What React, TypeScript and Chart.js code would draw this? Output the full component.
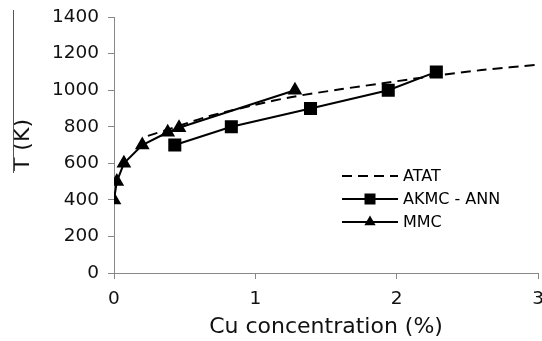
import React, { useEffect, useRef } from "react";
import { Chart, registerables } from "chart.js";

Chart.register(...registerables);

// ---- data ----
const atatX = [0.24, 0.4, 0.66, 1.0, 1.25, 1.6, 1.9, 2.28, 2.6, 3.0];
const atatY = [750, 790, 855, 920, 962, 1005, 1038, 1080, 1110, 1140];

const akmcX = [0.43, 0.83, 1.39, 1.94, 2.28];
const akmcY = [700, 800, 900, 1000, 1100];

const mmcX = [0.0, 0.02, 0.07, 0.2, 0.38, 0.46, 1.28];
const mmcY = [400, 500, 600, 700, 770, 795, 1000];

const seriesLabels = ["ATAT", "AKMC - ANN", "MMC"];
const xTicks = [0, 1, 2, 3];
const yTicks = [0, 200, 400, 600, 800, 1000, 1200, 1400];
const xTitle = "Cu concentration (%)";
const yTitle = "T (K)";

const FONT = "'DejaVu Sans', Verdana, sans-serif";
const SHIFT = 3; // canvas is shifted up by this many pixels

const toPts = (xs: number[], ys: number[]) => xs.map((x, i) => ({ x, y: ys[i] }));

const legendPlugin = {
  id: "customLegend",
  afterDraw(chart: any) {
    const ctx = chart.ctx;
    const ds = chart.data.datasets;
    const x0 = 342;
    const x1 = 398;
    const y0 = 176 + SHIFT;
    const gap = 23;
    ctx.save();
    ds.forEach((d: any, i: number) => {
      const y = y0 + i * gap;
      ctx.beginPath();
      ctx.setLineDash(d.borderDash || []);
      ctx.strokeStyle = "#000";
      ctx.lineWidth = d.borderWidth;
      ctx.moveTo(x0, y);
      ctx.lineTo(x1, y);
      ctx.stroke();
      ctx.setLineDash([]);
      const cx = (x0 + x1) / 2;
      if (d.pointStyle === "rect") {
        const s = 5.5;
        ctx.fillStyle = "#000";
        ctx.fillRect(cx - s, y - s, 2 * s, 2 * s);
      } else if (d.pointStyle === "triangle") {
        const r = 6.5;
        ctx.fillStyle = "#000";
        ctx.beginPath();
        ctx.moveTo(cx, y - r);
        ctx.lineTo(cx + r * 0.866, y + r * 0.5);
        ctx.lineTo(cx - r * 0.866, y + r * 0.5);
        ctx.closePath();
        ctx.fill();
      }
      ctx.fillStyle = "#000";
      ctx.font = `16px ${FONT}`;
      ctx.textBaseline = "middle";
      ctx.textAlign = "left";
      ctx.fillText(d.label, x1 + 5, y + 1);
    });
    // left border remnant of the original figure
    ctx.strokeStyle = "#555";
    ctx.lineWidth = 1;
    ctx.beginPath();
    ctx.moveTo(13.5, 10 + SHIFT);
    ctx.lineTo(13.5, 173 + SHIFT);
    ctx.stroke();
    ctx.restore();
  },
};

export default function App() {
  const ref = useRef<HTMLCanvasElement | null>(null);
  useEffect(() => {
    if (!ref.current) return;
    const chart = new Chart(ref.current, {
      type: "scatter",
      data: {
        datasets: [
          {
            label: seriesLabels[0],
            data: toPts(atatX, atatY),
            showLine: true,
            borderColor: "#000",
            borderWidth: 2,
            borderDash: [10, 6],
            pointRadius: 0,
            pointStyle: "line",
            tension: 0.3,
          },
          {
            label: seriesLabels[1],
            data: toPts(akmcX, akmcY),
            showLine: true,
            borderColor: "#000",
            backgroundColor: "#000",
            borderWidth: 2,
            pointStyle: "rect",
            pointRadius: 7.8,
          },
          {
            label: seriesLabels[2],
            data: toPts(mmcX, mmcY),
            showLine: true,
            borderColor: "#000",
            backgroundColor: "#000",
            borderWidth: 2,
            pointStyle: "triangle",
            pointRadius: 6.5,
          },
        ] as any,
      },
      options: {
        animation: false,
        responsive: false,
        layout: { padding: { top: 0, right: 0, bottom: 0, left: 0 } },
        plugins: { legend: { display: false }, tooltip: { enabled: false } },
        scales: {
          x: {
            type: "linear",
            min: 0,
            max: 3,
            afterBuildTicks: (s: any) => {
              s.ticks = xTicks.map((v) => ({ value: v }));
            },
            afterFit: (s: any) => {
              s.height = 68;
            },
            grid: { display: true, drawOnChartArea: false, drawTicks: true, tickLength: 6, color: "#888" },
            border: { display: true, color: "#888", width: 1 },
            ticks: {
              color: "#111",
              padding: 9,
              font: { family: FONT, size: 18.5 },
              maxRotation: 0,
              callback: (v: any) => String(v),
            },
            title: {
              display: true,
              text: xTitle,
              color: "#111",
              font: { family: FONT, size: 22 },
              padding: { top: 0, bottom: 1 },
            },
          },
          y: {
            type: "linear",
            min: 0,
            max: 1400,
            afterBuildTicks: (s: any) => {
              s.ticks = yTicks.map((v) => ({ value: v }));
            },
            afterFit: (s: any) => {
              s.width = 114;
            },
            grid: { display: true, drawOnChartArea: false, drawTicks: true, tickLength: 6, color: "#888" },
            border: { display: true, color: "#888", width: 1 },
            ticks: {
              color: "#111",
              padding: 9,
              font: { family: FONT, size: 18.5 },
              callback: (v: any) => String(v),
            },
            title: {
              display: true,
              text: yTitle,
              color: "#111",
              font: { family: FONT, size: 22 },
              padding: { top: 10, bottom: 0 },
            },
          },
        },
      } as any,
      plugins: [legendPlugin],
    });
    return () => chart.destroy();
  }, []);
  return (
    <div style={{ position: "fixed", left: 0, top: 0, width: 542, height: 341, overflow: "hidden", background: "#fff" }}>
      <canvas
        ref={ref}
        width={553}
        height={344}
        style={{ width: 553, height: 344, display: "block", marginTop: -SHIFT }}
      />
    </div>
  );
}
